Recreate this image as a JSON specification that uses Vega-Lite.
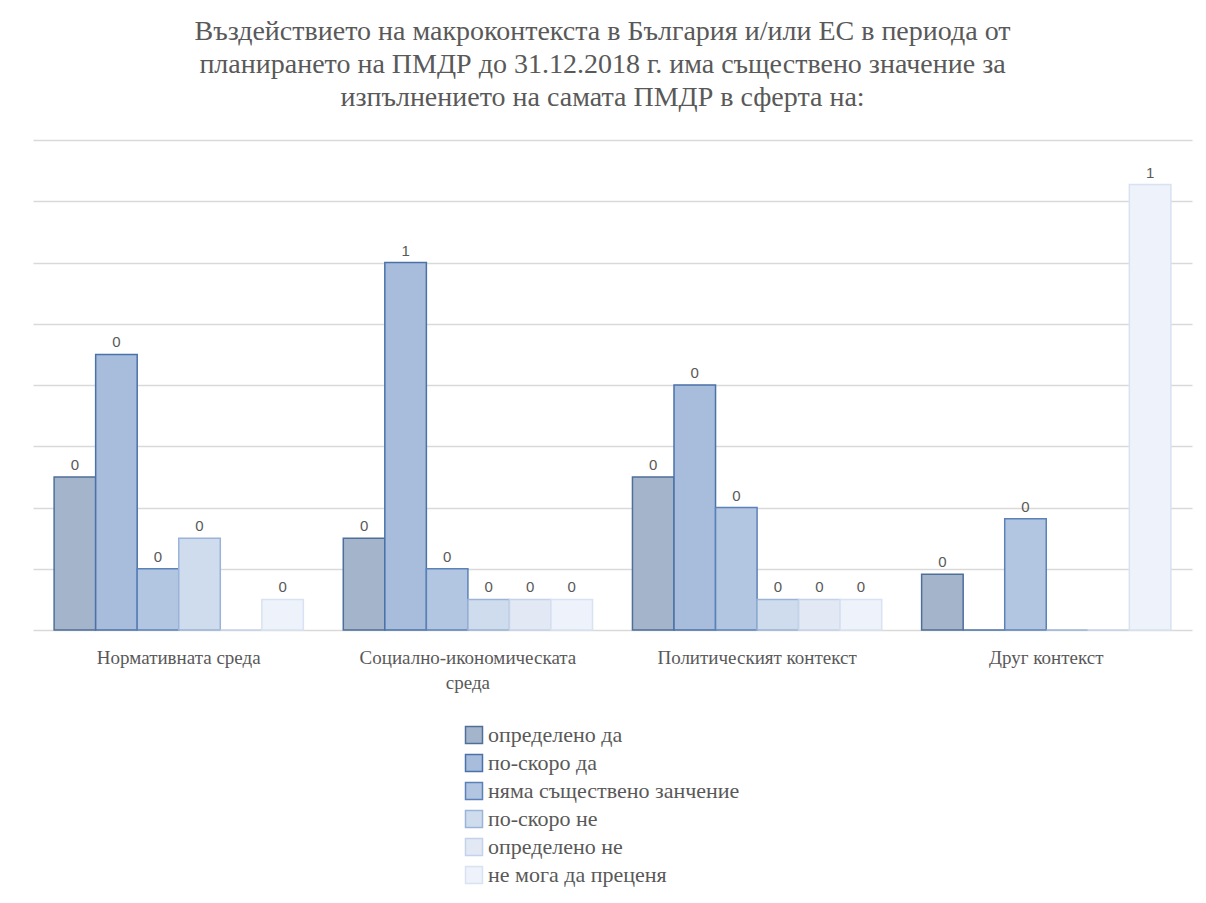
{
  "$schema": "https://vega.github.io/schema/vega-lite/v6.json",
  "width": 1159,
  "height": 490,
  "autosize": "none",
  "padding": {"left": 33, "top": 140, "right": 14, "bottom": 273},
  "background": "white",
  "title": {
    "text": ["Въздействието на макроконтекста в България и/или ЕС в периода от", "планирането на ПМДР до 31.12.2018 г. има съществено значение за", "изпълнението на самата ПМДР в сферта на:"],
    "font": "Liberation Serif",
    "fontSize": 28,
    "fontWeight": "normal",
    "color": "#595959",
    "lineHeight": 33,
    "anchor": "middle",
    "offset": 28,
    "dx": -10
  },
  "data": {
    "values": [
      {"category": "Нормативната среда", "answer": "определено да", "value": 0.25},
      {"category": "Нормативната среда", "answer": "по-скоро да", "value": 0.45},
      {"category": "Нормативната среда", "answer": "няма съществено занчение", "value": 0.1},
      {"category": "Нормативната среда", "answer": "по-скоро не", "value": 0.15},
      {"category": "Нормативната среда", "answer": "определено не", "value": 0},
      {"category": "Нормативната среда", "answer": "не мога да преценя", "value": 0.05},
      {"category": "Социално-икономическата среда", "answer": "определено да", "value": 0.15},
      {"category": "Социално-икономическата среда", "answer": "по-скоро да", "value": 0.6},
      {"category": "Социално-икономическата среда", "answer": "няма съществено занчение", "value": 0.1},
      {"category": "Социално-икономическата среда", "answer": "по-скоро не", "value": 0.05},
      {"category": "Социално-икономическата среда", "answer": "определено не", "value": 0.05},
      {"category": "Социално-икономическата среда", "answer": "не мога да преценя", "value": 0.05},
      {"category": "Политическият контекст", "answer": "определено да", "value": 0.25},
      {"category": "Политическият контекст", "answer": "по-скоро да", "value": 0.4},
      {"category": "Политическият контекст", "answer": "няма съществено занчение", "value": 0.2},
      {"category": "Политическият контекст", "answer": "по-скоро не", "value": 0.05},
      {"category": "Политическият контекст", "answer": "определено не", "value": 0.05},
      {"category": "Политическият контекст", "answer": "не мога да преценя", "value": 0.05},
      {"category": "Друг контекст", "answer": "определено да", "value": 0.0909},
      {"category": "Друг контекст", "answer": "по-скоро да", "value": 0},
      {"category": "Друг контекст", "answer": "няма съществено занчение", "value": 0.1818},
      {"category": "Друг контекст", "answer": "по-скоро не", "value": 0},
      {"category": "Друг контекст", "answer": "определено не", "value": 0},
      {"category": "Друг контекст", "answer": "не мога да преценя", "value": 0.7273}
    ]
  },
  "encoding": {
    "x": {
      "field": "category",
      "type": "nominal",
      "sort": null,
      "scale": {"paddingInner": 0.138, "paddingOuter": 0.073},
      "axis": {
        "title": null,
        "ticks": false,
        "domain": true,
        "domainColor": "#d9d9d9",
        "domainWidth": 1.5,
        "labelAngle": 0,
        "labelFont": "Liberation Serif",
        "labelFontSize": 19,
        "labelColor": "#595959",
        "labelPadding": 18,
        "labelLineHeight": 25,
        "labelLimit": 400,
        "labelExpr": "datum.label == 'Социално-икономическата среда' ? ['Социално-икономическата', 'среда'] : datum.label"
      }
    },
    "xOffset": {"field": "answer", "type": "nominal", "sort": null, "scale": {"paddingInner": 0, "paddingOuter": 0}},
    "y": {
      "field": "value",
      "type": "quantitative",
      "scale": {"domain": [0, 0.8], "nice": false},
      "axis": {
        "title": null,
        "labels": false,
        "ticks": false,
        "domain": false,
        "grid": true,
        "gridColor": "#d9d9d9",
        "gridWidth": 1.5,
        "values": [0.1, 0.2, 0.3, 0.4, 0.5, 0.6, 0.7, 0.8]
      }
    }
  },
  "layer": [
    {
      "mark": {"type": "bar", "strokeWidth": 1.5},
      "encoding": {
        "color": {
          "field": "answer",
          "type": "nominal",
          "sort": null,
          "title": null,
          "scale": {
            "domain": ["определено да", "по-скоро да", "няма съществено занчение", "по-скоро не", "определено не", "не мога да преценя"],
            "range": ["#a3b4cb", "#a8bddc", "#b2c6e2", "#cfdcee", "#e2e9f5", "#eef2fa"]
          },
          "legend": {
            "orient": "none",
            "legendX": 430,
            "legendY": 584,
            "direction": "vertical",
            "symbolType": "square",
            "symbolSize": 289,
            "symbolStrokeWidth": 1.5,
            "labelFont": "Liberation Serif",
            "labelFontSize": 22,
            "labelColor": "#595959",
            "labelOffset": 3,
            "rowPadding": 4,
            "labelLimit": 400
          }
        },
        "stroke": {
          "field": "answer",
          "type": "nominal",
          "sort": null,
          "title": null,
          "scale": {
            "domain": ["определено да", "по-скоро да", "няма съществено занчение", "по-скоро не", "определено не", "не мога да преценя"],
            "range": ["#4f6f98", "#4a72a8", "#5b82b8", "#9ab3d6", "#c4d3ea", "#d8e2f2"]
          }
        }
      }
    },
    {
      "transform": [{"filter": "datum.value > 0"}],
      "mark": {"type": "text", "baseline": "bottom", "dy": -4, "font": "Liberation Sans", "fontSize": 15, "color": "#595959"},
      "encoding": {
        "text": {"field": "value", "type": "quantitative", "format": ".0f"}
      }
    }
  ],
  "config": {
    "view": {"stroke": null}
  }
}
